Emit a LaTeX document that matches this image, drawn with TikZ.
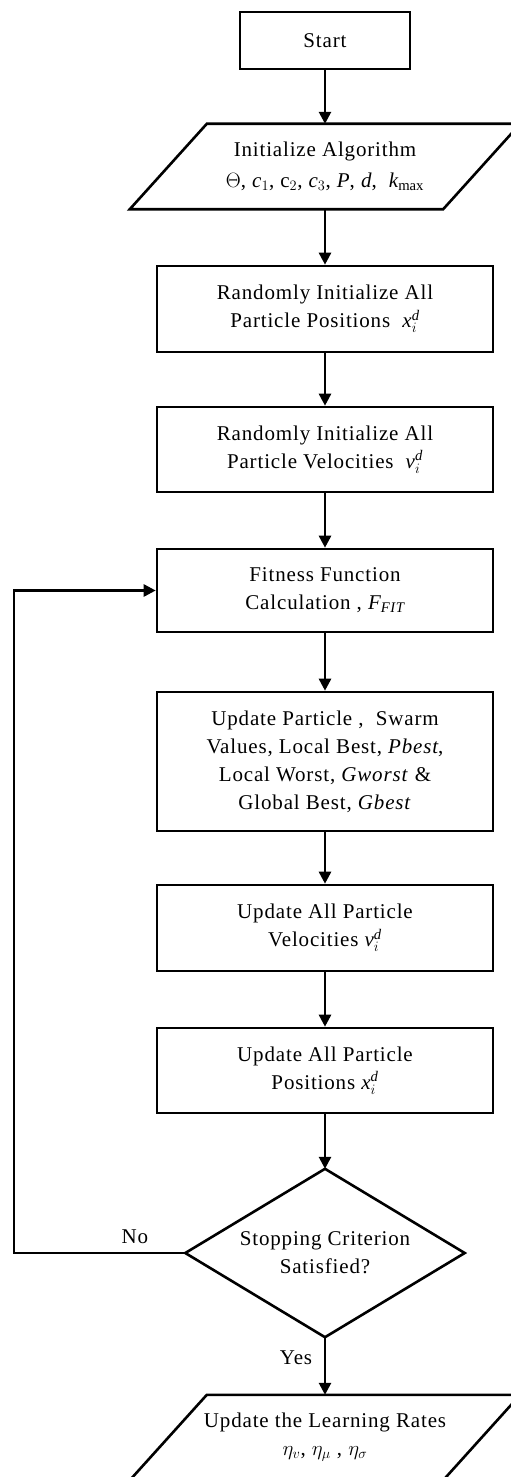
\documentclass[tikz,border=0pt]{standalone}
\usepackage{amsmath}
\usepackage{fontspec}
\setmainfont{Liberation Serif}[LetterSpace=4]
\usetikzlibrary{arrows.meta}
\newcommand{\ti}[1]{\textit{#1}}
\tikzset{
  base/.style={inner sep=0pt, align=center, font=\fontsize{21}{28}\selectfont},
  box/.style={base, draw, line width=2.6pt, minimum width=336pt},
  pgram/.style={base, minimum width=313pt, minimum height=85pt},
  outline/.style={line width=2.6pt, line join=miter},
  arr/.style={line width=2.6pt, -{Triangle[length=12pt,width=12pt]}},
  lbl/.style={inner sep=0pt, font=\fontsize{21}{24}\selectfont}
}
\begin{document}
\begin{tikzpicture}[x=1pt,y=-1pt]
\useasboundingbox (0,0) rectangle (511,1477);
\clip (0,0) rectangle (511,1477);
\fill[white] (0,0) rectangle (511,1477);

\node[box, minimum width=170pt, minimum height=57pt] (start) at (325,40.5) {Start};

\node[pgram] (init) at (325,166.5) {Initialize Algorithm\\[3pt] $\Theta$, $\ti{c}_1$, c$_2$, $\ti{c}_3$, \ti{P}, \ti{d},\ \ $\ti{k}_{\max}$};
\draw[outline] ([xshift=38.5pt]init.north west) -- ([xshift=38.5pt]init.north east)
  -- ([xshift=-38.5pt]init.south east) -- ([xshift=-38.5pt]init.south west) -- cycle;

\node[box, minimum height=86pt] (pos) at (325,309) {Randomly Initialize All\\ Particle Positions\ \ $\ti{x}_i^{\ti{d}}$};
\node[box, minimum height=85pt] (vel) at (325,449.5) {Randomly Initialize All\\ Particle Velocities\ \ $\ti{v}_i^{\ti{d}}$};
\node[box, minimum height=83pt] (fit) at (325,590.5) {Fitness Function\\ Calculation , $\ti{F}_{\ti{FIT}}$};
\node[box, minimum height=139pt] (upd) at (325,761.5) {Update Particle ,\ \ Swarm\\ Values, Local Best, \ti{Pbest},\\ Local Worst, \ti{Gworst} \&\\ Global Best, \ti{Gbest}};
\node[box, minimum height=86pt] (uvel) at (325,928) {Update All Particle\\ Velocities $\ti{v}_i^{\ti{d}}$};
\node[box, minimum height=85pt] (upos) at (325,1070.5) {Update All Particle\\ Positions $\ti{x}_i^{\ti{d}}$};

\node[base, minimum width=279pt, minimum height=168pt] (dec) at (325,1253) {Stopping Criterion\\ Satisfied?};
\draw[outline] (dec.north) -- (dec.east) -- (dec.south) -- (dec.west) -- cycle;

\node[pgram] (lr) at (325,1437.5) {Update the Learning Rates\\ $\eta_v$, $\eta_\mu$ , $\eta_\sigma$};
\draw[outline] ([xshift=38.5pt]lr.north west) -- ([xshift=38.5pt]lr.north east)
  -- ([xshift=-38.5pt]lr.south east) -- ([xshift=-38.5pt]lr.south west) -- cycle;

\coordinate (loopc) at (14,1253);
\node[lbl] (no) at (135,1237) {No};
\node[lbl] (yes) at (296,1358) {Yes};

\draw[arr] (start) -- (init);
\draw[arr] (init) -- (pos);
\draw[arr] (pos) -- (vel);
\draw[arr] (vel) -- (fit);
\draw[arr] (fit) -- (upd);
\draw[arr] (upd) -- (uvel);
\draw[arr] (uvel) -- (upos);
\draw[arr] (upos) -- (dec.north);
\draw[arr] (dec.south) -- (lr.north);
\draw[arr] (dec.west) -- (loopc) |- (fit.west);
\end{tikzpicture}
\end{document}
